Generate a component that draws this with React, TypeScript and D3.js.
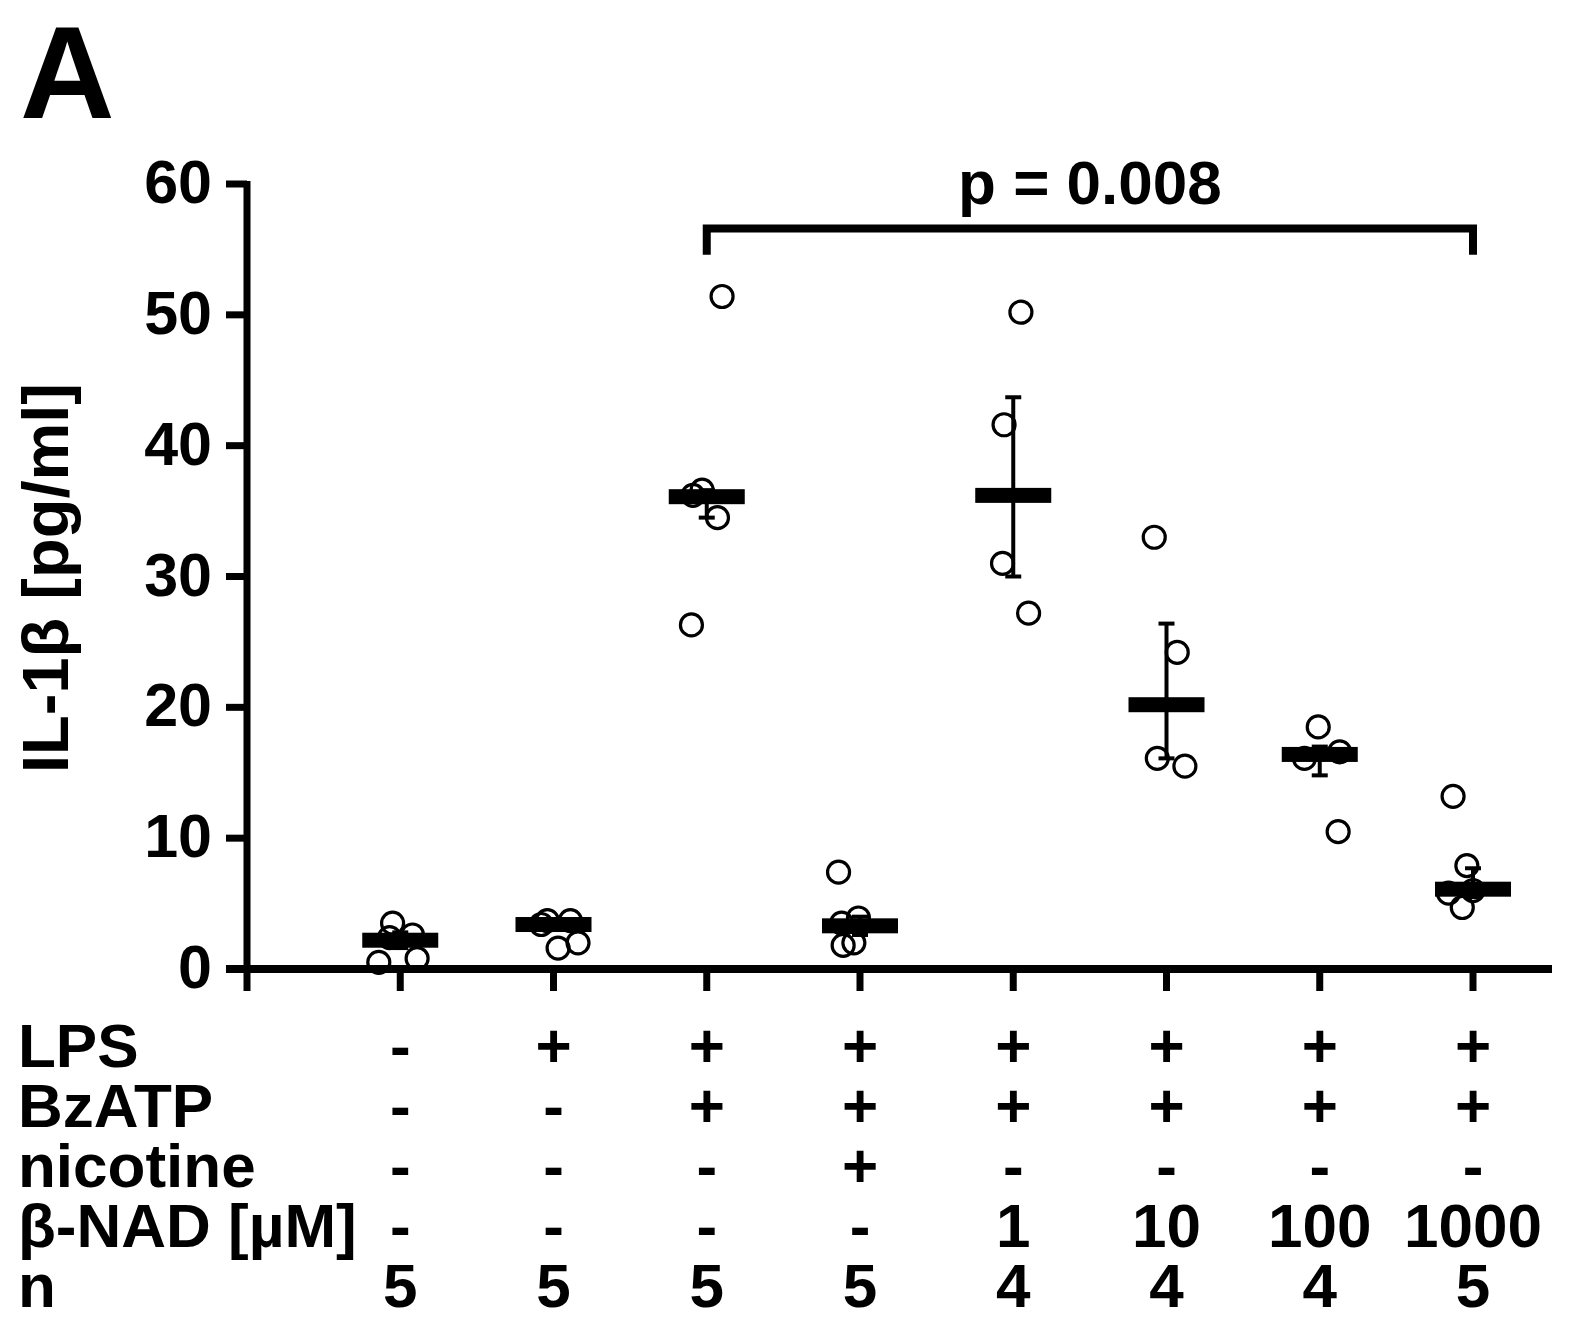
import React from "react";
import { scaleLinear } from "d3";

// IL-1β release per condition (pg/ml)
const groups = ["g1", "g2", "g3", "g4", "g5", "g6", "g7", "g8"];
const means = [2.2, 3.4, 36.1, 3.3, 36.2, 20.2, 16.4, 6.1];
const errLow = [1.6, 3.0, 34.5, 2.6, 30.0, 16.1, 14.8, 5.5];
const errHigh = [2.8, 3.8, 36.6, 4.0, 43.7, 26.4, 17.0, 7.7];

// single values per group, with horizontal jitter (in group units)
const points = [
  [3.5, 2.6, 2.4, 0.5, 0.8],
  [3.7, 3.7, 3.4, 1.6, 2.0],
  [51.4, 26.3, 36.6, 34.5, 36.2],
  [7.4, 3.9, 3.5, 1.8, 2.0],
  [50.2, 41.6, 31.0, 27.2],
  [33.0, 24.2, 16.1, 15.5],
  [18.5, 16.6, 16.1, 10.5],
  [13.2, 7.9, 5.8, 4.7, 6.0],
];
const jitter = [
  [-0.05, 0.08, -0.07, -0.14, 0.11],
  [-0.04, 0.11, -0.08, 0.03, 0.16],
  [0.1, -0.1, -0.03, 0.07, -0.09],
  [-0.14, -0.01, -0.12, -0.11, -0.04],
  [0.05, -0.06, -0.07, 0.1],
  [-0.08, 0.07, -0.06, 0.12],
  [-0.01, 0.13, -0.1, 0.12],
  [-0.13, -0.04, -0.16, -0.07, 0.0],
];

const yTicks = [0, 10, 20, 30, 40, 50, 60];

// condition table below the axis
const rowLabels = ["LPS", "BzATP", "nicotine", "β-NAD [µM]", "n"];
const rowLPS = ["-", "+", "+", "+", "+", "+", "+", "+"];
const rowBzATP = ["-", "-", "+", "+", "+", "+", "+", "+"];
const rowNicotine = ["-", "-", "-", "+", "-", "-", "-", "-"];
const rowNAD = ["-", "-", "-", "-", "1", "10", "100", "1000"];
const rowN = ["5", "5", "5", "5", "4", "4", "4", "5"];
const rows = [rowLPS, rowBzATP, rowNicotine, rowNAD, rowN];

const pText = "p = 0.008";
const pFrom = 2;
const pTo = 7;
const pLevel = 56.6;
const pDrop = 54.6;

const font = "'Liberation Sans', Arial, Helvetica, sans-serif";

export default function App() {
  const width = 1572;
  const height = 1338;

  const x = scaleLinear().domain([-1, 7]).range([247, 1473]);
  const y = scaleLinear().domain([0, 60]).range([969, 184]);
  const rowY = scaleLinear().domain([0, 4]).range([1067, 1307]);

  const barHalf = 38;
  const barThick = 15;
  const capHalf = 8;

  return (
    <svg
      width={width}
      height={height}
      style={{ position: "absolute", left: 0, top: 0, background: "#fff" }}
      fontFamily={font}
      fontWeight="bold"
    >
      {/* panel letter */}
      <text x={20} y={118} fontSize={131}>A</text>

      {/* y axis */}
      <line x1={x(-1)} x2={x(-1)} y1={y(60) - 3} y2={y(0)} stroke="#000" strokeWidth={7} />
      {yTicks.map((t) => (
        <g key={t}>
          <line x1={x(-1) - 21} x2={x(-1)} y1={y(t)} y2={y(t)} stroke="#000" strokeWidth={7} />
          <text x={212} y={y(t) + 19} fontSize={61} textAnchor="end">{t}</text>
        </g>
      ))}
      <text
        transform={`translate(68, 578) rotate(-90)`}
        fontSize={65}
        textAnchor="middle"
      >
        IL-1β [pg/ml]
      </text>

      {/* x axis */}
      <line x1={x(-1) - 21} x2={1552} y1={y(0)} y2={y(0)} stroke="#000" strokeWidth={8} />
      {[-1, ...groups.map((_, i) => i)].map((i) => (
        <line key={i} x1={x(i)} x2={x(i)} y1={y(0)} y2={y(0) + 22} stroke="#000" strokeWidth={7} />
      ))}

      {/* data points */}
      {points.map((vals, gi) =>
        vals.map((v, k) => (
          <circle
            key={gi + "-" + k}
            cx={x(gi + jitter[gi][k])}
            cy={y(v)}
            r={11}
            fill="none"
            stroke="#000"
            strokeWidth={3.2}
          />
        ))
      )}

      {/* mean bars and error bars */}
      {means.map((m, gi) => (
        <g key={gi}>
          <line x1={x(gi)} x2={x(gi)} y1={y(errLow[gi])} y2={y(errHigh[gi])} stroke="#000" strokeWidth={4} />
          <line x1={x(gi) - capHalf} x2={x(gi) + capHalf} y1={y(errLow[gi])} y2={y(errLow[gi])} stroke="#000" strokeWidth={4} />
          <line x1={x(gi) - capHalf} x2={x(gi) + capHalf} y1={y(errHigh[gi])} y2={y(errHigh[gi])} stroke="#000" strokeWidth={4} />
          <rect x={x(gi) - barHalf} y={y(m) - barThick / 2} width={barHalf * 2} height={barThick} fill="#000" />
        </g>
      ))}

      {/* significance bracket */}
      <path
        d={`M${x(pFrom)},${y(pDrop)}V${y(pLevel)}H${x(pTo)}V${y(pDrop)}`}
        fill="none"
        stroke="#000"
        strokeWidth={8}
      />
      <text x={(x(pFrom) + x(pTo)) / 2} y={204} fontSize={62} textAnchor="middle">{pText}</text>

      {/* condition table */}
      {rowLabels.map((label, ri) => (
        <g key={label}>
          <text x={18} y={rowY(ri)} fontSize={62}>{label}</text>
          {rows[ri].map((val, gi) => (
            <text key={gi} x={x(gi)} y={rowY(ri)} fontSize={62} textAnchor="middle">{val}</text>
          ))}
        </g>
      ))}
    </svg>
  );
}
